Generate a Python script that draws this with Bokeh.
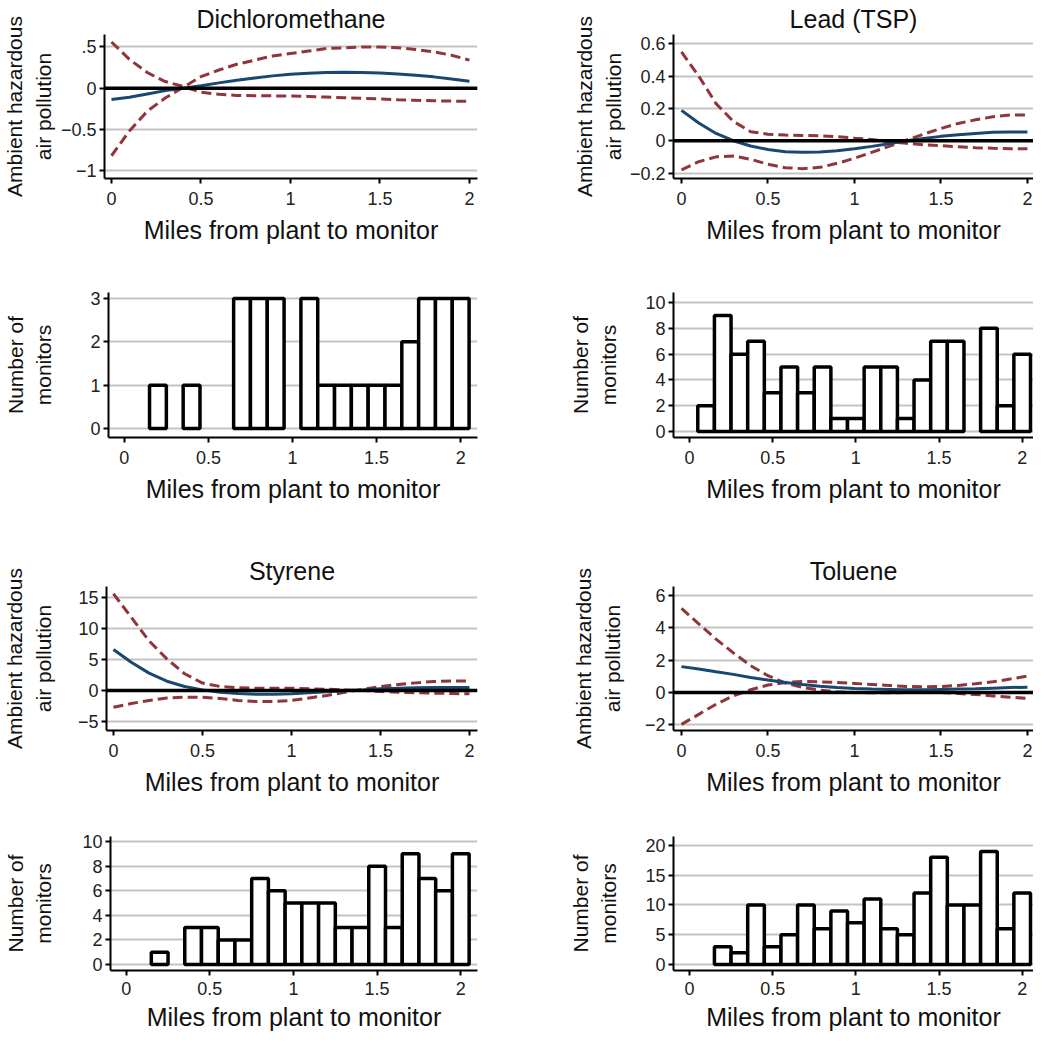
from bokeh.plotting import figure
from bokeh.layouts import column, row
from bokeh.models import Span, Range1d, FixedTicker
from bokeh.embed import file_html
from bokeh.resources import INLINE

# ---------------- data ----------------
dist = [0.0, 0.1, 0.2, 0.3, 0.4, 0.5, 0.6, 0.7, 0.8, 0.9, 1.0,
        1.1, 1.2, 1.3, 1.4, 1.5, 1.6, 1.7, 1.8, 1.9, 2.0]

dcm_fit = [-0.137, -0.11, -0.07, -0.03, 0.0, 0.03, 0.064, 0.096, 0.124, 0.149, 0.169,
           0.18, 0.189, 0.193, 0.19, 0.185, 0.173, 0.157, 0.137, 0.112, 0.084]
dcm_a = [0.56, 0.35, 0.19, 0.08, 0.02, -0.05, -0.075, -0.088, -0.092, -0.093, -0.096,
         -0.1, -0.108, -0.116, -0.124, -0.13, -0.14, -0.148, -0.153, -0.157, -0.16]
dcm_b = [-0.82, -0.52, -0.28, -0.12, 0.01, 0.14, 0.22, 0.29, 0.34, 0.39, 0.42,
         0.45, 0.48, 0.49, 0.5, 0.5, 0.49, 0.47, 0.44, 0.4, 0.34]

lead_fit = [0.188, 0.11, 0.045, 0.0, -0.033, -0.054, -0.068, -0.072, -0.07, -0.062, -0.05,
            -0.035, -0.019, 0.0, 0.014, 0.027, 0.037, 0.045, 0.052, 0.054, 0.054]
lead_a = [0.55, 0.40, 0.23, 0.12, 0.056, 0.04, 0.035, 0.033, 0.031, 0.025, 0.016,
          0.008, -0.006, -0.016, -0.025, -0.031, -0.037, -0.043, -0.047, -0.05, -0.05]
lead_b = [-0.18, -0.13, -0.1, -0.095, -0.115, -0.146, -0.167, -0.173, -0.165, -0.14, -0.109,
          -0.072, -0.035, 0.004, 0.041, 0.076, 0.107, 0.13, 0.148, 0.159, 0.16]

sty_fit = [6.6, 4.55, 2.8, 1.5, 0.64, 0.1, -0.27, -0.48, -0.59, -0.59, -0.54,
           -0.37, -0.21, -0.05, 0.1, 0.27, 0.37, 0.43, 0.48, 0.48, 0.48]
sty_a = [15.6, 11.8, 8.0, 5.1, 2.7, 1.2, 0.64, 0.43, 0.37, 0.37, 0.37,
         0.27, 0.2, 0.1, 0.0, -0.16, -0.27, -0.37, -0.43, -0.48, -0.54]
sty_b = [-2.7, -2.1, -1.6, -1.2, -1.07, -1.07, -1.3, -1.6, -1.77, -1.77, -1.6,
         -1.2, -0.8, -0.27, 0.2, 0.64, 0.96, 1.23, 1.45, 1.55, 1.55]

tol_fit = [1.6, 1.45, 1.28, 1.12, 0.93, 0.77, 0.62, 0.5, 0.39, 0.31, 0.25,
           0.21, 0.19, 0.17, 0.17, 0.19, 0.21, 0.23, 0.27, 0.31, 0.33]
tol_a = [5.2, 4.25, 3.3, 2.45, 1.66, 1.04, 0.58, 0.31, 0.15, 0.04, 0.0,
         -0.02, -0.02, 0.0, 0.02, 0.0, -0.06, -0.12, -0.21, -0.29, -0.37]
tol_b = [-1.97, -1.35, -0.73, -0.2, 0.17, 0.46, 0.62, 0.68, 0.66, 0.62, 0.56,
         0.5, 0.44, 0.37, 0.35, 0.37, 0.44, 0.54, 0.66, 0.83, 1.02]

bin_centers = [0.1, 0.2, 0.3, 0.4, 0.5, 0.6, 0.7, 0.8, 0.9, 1.0,
               1.1, 1.2, 1.3, 1.4, 1.5, 1.6, 1.7, 1.8, 1.9, 2.0]
dcm_counts = [0, 1, 0, 1, 0, 0, 3, 3, 3, 0, 3, 1, 1, 1, 1, 1, 2, 3, 3, 3]
lead_counts = [2, 9, 6, 7, 3, 5, 3, 5, 1, 1, 5, 5, 1, 4, 7, 7, 0, 8, 2, 6]
sty_counts = [0, 1, 0, 3, 3, 2, 2, 7, 6, 5, 5, 5, 3, 3, 8, 3, 9, 7, 6, 9]
tol_counts = [0, 3, 2, 10, 3, 5, 10, 6, 9, 7, 11, 6, 5, 12, 18, 10, 10, 19, 6, 12]
bin_width = 0.1

x_ticks = [0, 0.5, 1, 1.5, 2]
x_tick_labels = ["0", "0.5", "1", "1.5", "2"]

dcm_yticks = [-1, -0.5, 0, 0.5]
dcm_ylabels = ["\u22121", "\u22120.5", "0", ".5"]
lead_yticks = [-0.2, 0, 0.2, 0.4, 0.6]
lead_ylabels = ["\u22120.2", "0", "0.2", "0.4", "0.6"]
sty_yticks = [-5, 0, 5, 10, 15]
sty_ylabels = ["\u22125", "0", "5", "10", "15"]
tol_yticks = [-2, 0, 2, 4, 6]
tol_ylabels = ["\u22122", "0", "2", "4", "6"]
dcm_h_yticks = [0, 1, 2, 3]
lead_h_yticks = [0, 2, 4, 6, 8, 10]
sty_h_yticks = [0, 2, 4, 6, 8, 10]
tol_h_yticks = [0, 5, 10, 15, 20]

XLABEL = "Miles from plant to monitor"
YLABEL_LINE = "Ambient hazardous\nair pollution"
YLABEL_HIST = "Number of\nmonitors"

# ---------------- style ----------------
FONT = "Liberation Sans"
BLUE = "#1a476f"
RED = "#90353b"
GRID = "#c4c4c4"

LEFT_W, RIGHT_W = 560, 473
ROW_H = [256, 262, 286, 230]


def base_fig(w, h, xr, yr, borders, title=None, tick_sd=8, lab_sd=8):
    p = figure(width=w, height=h, x_range=Range1d(*xr), y_range=Range1d(*yr),
               output_backend="svg", toolbar_location=None, title=title,
               min_border_left=borders[0], min_border_right=borders[1],
               min_border_top=borders[2], min_border_bottom=borders[3])
    p.outline_line_color = None
    p.background_fill_color = "white"
    p.border_fill_color = "white"
    p.xgrid.grid_line_color = None
    p.ygrid.grid_line_color = GRID
    p.ygrid.grid_line_width = 2
    if title is not None:
        p.title.text_font = FONT
        p.title.text_font_size = "25px"
        p.title.text_font_style = "normal"
        p.title.align = "center"
        p.title.text_color = "#111111"
        p.title.standoff = 4
    for ax in (p.xaxis[0], p.yaxis[0]):
        ax.axis_line_width = 2
        ax.axis_line_color = "black"
        ax.major_tick_line_width = 2
        ax.major_tick_line_color = "black"
        ax.major_tick_out = 5
        ax.major_tick_in = 0
        ax.minor_tick_line_color = None
        ax.major_label_text_font = FONT
        ax.major_label_text_font_size = "18px"
        ax.major_label_text_color = "#222222"
        ax.axis_label_text_font = FONT
        ax.axis_label_text_font_style = "normal"
        ax.axis_label_text_color = "#111111"
    p.xaxis.ticker = FixedTicker(ticks=x_ticks)
    p.xaxis.major_label_overrides = dict(zip(x_ticks, x_tick_labels))
    p.xaxis.axis_label = XLABEL
    p.xaxis.axis_label_text_font_size = "25px"
    p.xaxis.major_label_standoff = tick_sd
    p.xaxis.axis_label_standoff = lab_sd
    p.yaxis.major_label_standoff = 3
    p.yaxis.axis_label_text_font_size = "21px"
    p.yaxis.axis_label_text_line_height = 1.25
    return p


def line_panel(w, h, xr, yr, borders, title, fit, a, b, yticks, ylabels, lab_standoff):
    p = base_fig(w, h, xr, yr, borders, title)
    p.yaxis.ticker = FixedTicker(ticks=yticks)
    p.yaxis.major_label_overrides = dict(zip(yticks, ylabels))
    p.yaxis.axis_label = YLABEL_LINE
    p.yaxis.axis_label_standoff = lab_standoff
    p.add_layout(Span(location=0, dimension="width", line_color="black", line_width=3.5))
    p.line(dist, a, line_color=RED, line_width=3, line_dash="10 5")
    p.line(dist, b, line_color=RED, line_width=3, line_dash="10 5")
    p.line(dist, fit, line_color=BLUE, line_width=3)
    return p


def hist_panel(w, h, xr, yr, borders, counts, yticks, lab_standoff, tick_sd=8, lab_sd=8):
    p = base_fig(w, h, xr, yr, borders, None, tick_sd, lab_sd)
    p.yaxis.ticker = FixedTicker(ticks=yticks)
    p.yaxis.axis_label = YLABEL_HIST
    p.yaxis.axis_label_standoff = lab_standoff
    cs = [c for c, n in zip(bin_centers, counts) if n > 0]
    ns = [n for n in counts if n > 0]
    p.quad(left=[c - bin_width / 2 for c in cs], right=[c + bin_width / 2 for c in cs],
           bottom=0, top=ns, fill_color="white", line_color="black", line_width=3.5)
    return p


# row 1 : page 0-256, frame 33 -> 178
p1 = line_panel(LEFT_W, ROW_H[0], (-0.039, 2.045), (-1.096, 0.651), (103, 83, 33, 78),
                "Dichloromethane", dcm_fit, dcm_a, dcm_b, dcm_yticks, dcm_ylabels, 3)
p2 = line_panel(RIGHT_W, ROW_H[0], (-0.046, 2.035), (-0.234, 0.658), (113, 0, 33, 78),
                "Lead (TSP)", lead_fit, lead_a, lead_b, lead_yticks, lead_ylabels, 2)
# row 2 : page 256-518, frame 292 -> 437
p3 = hist_panel(LEFT_W, ROW_H[1], (-0.094, 2.1), (-0.208, 3.139), (103, 83, 36, 81),
                dcm_counts, dcm_h_yticks, 32)
p4 = hist_panel(RIGHT_W, ROW_H[1], (-0.096, 2.068), (-0.465, 10.78), (113, 0, 36, 81),
                lead_counts, lead_h_yticks, 22)
# row 3 : page 518-804, frame 586 -> 730
p5 = line_panel(LEFT_W, ROW_H[2], (-0.039, 2.045), (-6.45, 16.77), (103, 83, 68, 74),
                "Styrene", sty_fit, sty_a, sty_b, sty_yticks, sty_ylabels, 20)
p6 = line_panel(RIGHT_W, ROW_H[2], (-0.046, 2.035), (-2.35, 6.555), (113, 0, 68, 74),
                "Toluene", tol_fit, tol_a, tol_b, tol_yticks, tol_ylabels, 18)
# row 4 : page 804-1034, frame 836 -> 970
p7 = hist_panel(LEFT_W, ROW_H[3], (-0.094, 2.1), (-0.49, 10.41), (103, 83, 32, 64),
                sty_counts, sty_h_yticks, 24, 6, 5)
p8 = hist_panel(RIGHT_W, ROW_H[3], (-0.096, 2.068), (-1.0, 21.5), (113, 0, 32, 64),
                tol_counts, tol_h_yticks, 22, 6, 5)

layout = column(row(p1, p2), row(p3, p4), row(p5, p6), row(p7, p8))

open("out.html", "w").write(file_html(layout, INLINE))
